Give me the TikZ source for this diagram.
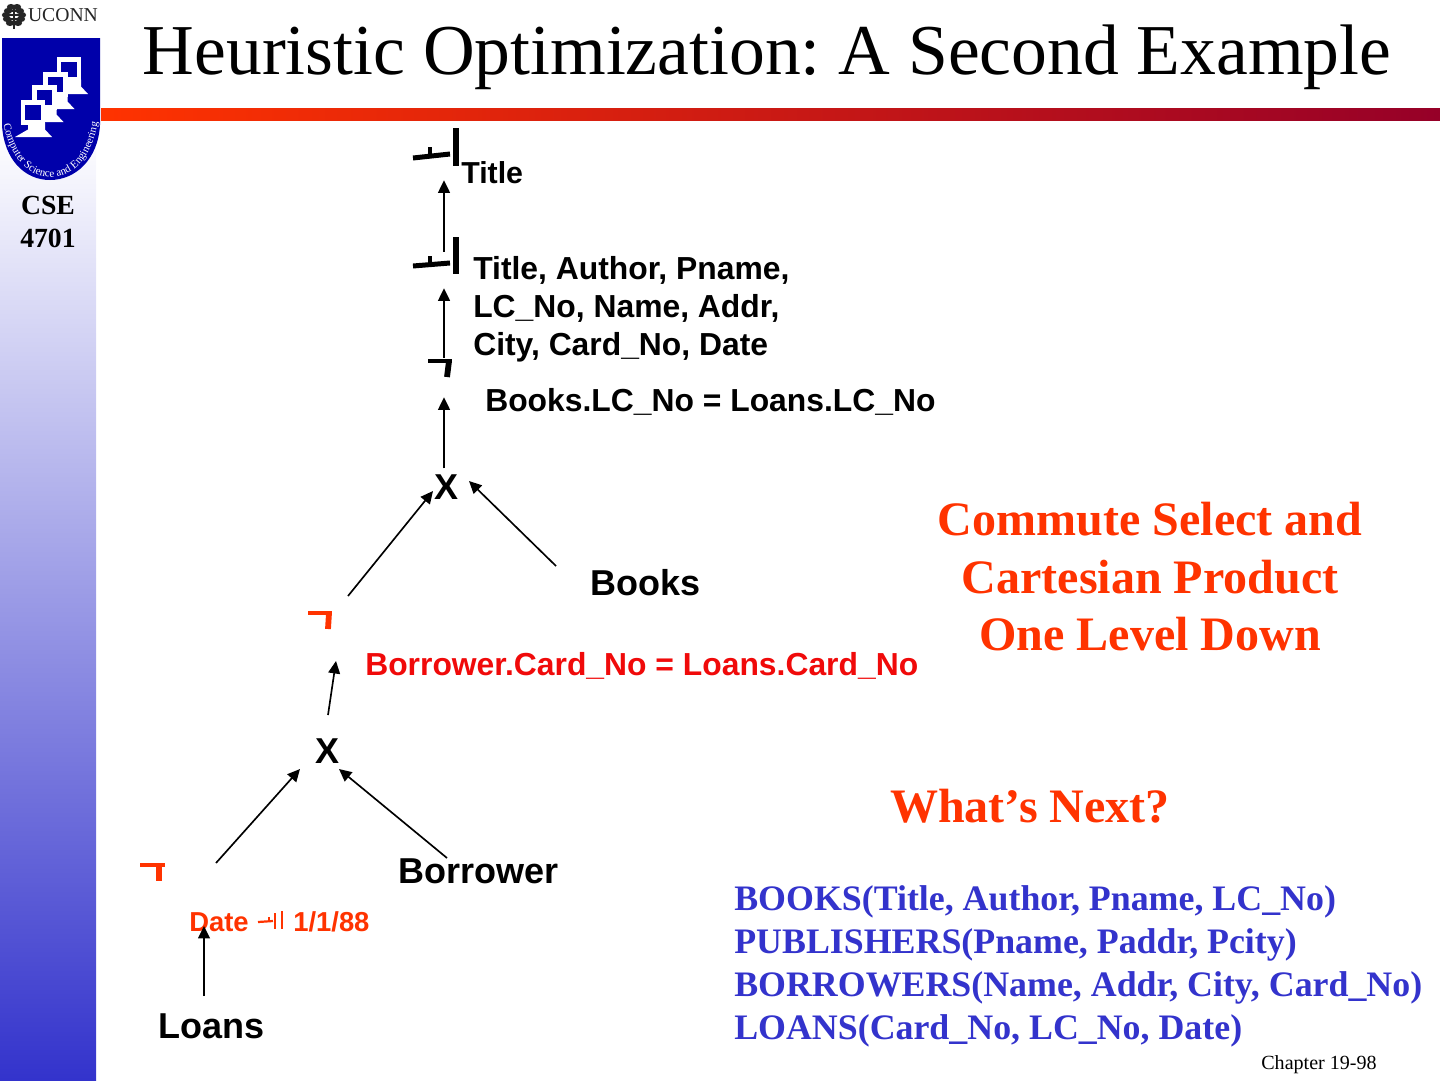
\documentclass[tikz,border=0pt]{standalone}
\usepackage{fontspec}
\setmainfont{Liberation Serif}
\setsansfont{Liberation Sans}
\usetikzlibrary{arrows.meta,decorations.text}
\frenchspacing

\definecolor{rojo}{RGB}{255,51,0}
\definecolor{rojob}{RGB}{240,10,10}
\definecolor{azul}{RGB}{51,51,204}
\definecolor{azulb}{RGB}{0,0,170}
\definecolor{vino}{RGB}{150,0,40}

\begin{document}
\begin{tikzpicture}[
        x=0.01in, y=-0.01in,
        flecha/.style={-{Triangle[length=9pt,width=8.5pt]}, line width=1.2pt},
        hueco/.style={inner sep=0pt},
        etiqueta/.style={inner sep=0pt, anchor=west, align=left, font=\sffamily\bfseries\fontsize{23}{27.5}\selectfont},
        chica/.style={inner sep=0pt, anchor=west, text=rojo, font=\sffamily\bfseries\fontsize{19.8}{24}\selectfont},
        grande/.style={inner sep=0pt, font=\sffamily\bfseries\fontsize{26}{30}\selectfont},
        cartel/.style={inner sep=0pt, align=center, font=\bfseries\fontsize{34.7}{41.5}\selectfont, text=rojo},
        trazo/.style={line width=3.6pt},
        trazorojo/.style={line width=3.4pt, draw=rojo}
    ]
        \useasboundingbox (0,0) rectangle (1440,1080);

        % side band and title rule
        \shade[top color=white, bottom color=azul] (0,130) rectangle (96,1080);
        \shade[left color=rojo, right color=vino, middle color=rojo!50!vino] (101,108) rectangle (1440,120);

        % logo
        \draw[black!85, line width=1pt] (14,5) -- (14,29);
        \foreach \ty/\tw in {7/3, 11/6, 15/8, 19/7, 23/4}{
            \fill[black!85] (14-\tw,\ty) ellipse (3pt and 2.2pt);
            \fill[black!85] (14+\tw,\ty) ellipse (3pt and 2.2pt);
            \draw[black!85, line width=1.6pt] (14-\tw,\ty) -- (14+\tw,\ty);
        }
        \node[inner sep=0pt, font=\fontsize{14.2}{18}\selectfont, text=black!85] (uconn) at (63,15) {UCONN};
        \fill[azulb] (2,38) -- (100,38) -- (100,125) .. controls (98,160) and (75,180) .. (50,180) .. controls (25,180) and (4,160) .. (2,125) -- cycle;
        \foreach \mx/\my in {69/69.5, 55.5/84.5, 44.5/97.5, 33/112.5}{
            \fill[white] (\mx-5,\my+10) -- (\mx+12,\my+10) -- (\mx+12,\my+17) -- (\mx+19,\my+24.5) -- (\mx-18,\my+24.5) -- (\mx-5,\my+17) -- cycle;
            \draw[white, fill=azulb, line width=3.6pt] (\mx-10,\my-10) rectangle (\mx+10,\my+10);
        }
        \path[decorate, decoration={text along path, text align=center,
            text={|\fontsize{7.9}{9}\selectfont\color{white}|Computer Science and Engineering}}]
            (3,122) .. controls (10,160) and (30,177) .. (50,177) .. controls (72,177) and (92,160) .. (98,120);
        \node[inner sep=0pt, align=center, font=\bfseries\fontsize{20}{24}\selectfont] (curso) at (48,222) {CSE\\4701};

        \node[inner sep=0pt, font=\fontsize{51.7}{60}\selectfont] (titulo) at (767,57) {Heuristic Optimization: A Second Example};

        % projections and select at the top
        \node[hueco, minimum width=0.62in, minimum height=0.52in] (pi1) at (444,154) {};
        \node[hueco, minimum width=0.62in, minimum height=0.36in] (pi2) at (444,270) {};
        \node[hueco, minimum width=0.16in, minimum height=0.39in] (sel1) at (444,377.5) {};
        \draw[trazo] (413,158) -- (450,154);
        \draw[line width=2.8pt] (430,147) -- (430,155);
        \draw[line width=4.2pt] (456,128) -- (456,166);
        \draw[trazo] (413,266) -- (450,263);
        \draw[line width=2.8pt] (430,256) -- (430,264);
        \draw[line width=4.2pt] (456,237) -- (456,274);
        \draw[trazo] (428,361) -- (452,361);
        \draw[line width=4.2pt] (449,361) -- (447,377);

        \node[etiqueta, font=\sffamily\bfseries\fontsize{21.9}{27.5}\selectfont] (l1) at (461,173) {Title};
        \node[etiqueta] (l2) at (473,309) {Title, Author, Pname,\\LC\_No, Name, Addr,\\City, Card\_No, Date};
        \node[etiqueta] (l3) at (485,402) {Books.LC\_No = Loans.LC\_No};

        % first product
        \node[grande] (x1) at (446,487) {X};
        \node[grande, anchor=west] (books) at (590,583) {Books};
        \node[hueco] (sel2) at (320,628) {};
        \draw[trazorojo] (308,613) -- (332,613);
        \draw[line width=4.2pt, rojo] (329,613) -- (328,629);
        \node[etiqueta, text=rojob] (l4) at (365,666) {Borrower.Card\_No = Loans.Card\_No};

        % second product
        \node[grande] (x2) at (327,751) {X};
        \node[grande, anchor=west] (borrower) at (398,871) {Borrower};
        \node[hueco] (sel3) at (152,878) {};
        \draw[trazorojo] (140,865) -- (165,865);
        \draw[line width=4.2pt, rojo] (159,865) -- (159,881);
        \node[chica] (l5a) at (189,922) {Date};
        \node[chica] (l5b) at (293,922) {1/1/88};
        \draw[rojo, line width=1.6pt] (258,922) -- (273,921);
        \draw[rojo, line width=1.2pt] (269,917) -- (269,922);
        \draw[rojo, line width=1.6pt] (275,913) -- (275,929);
        \draw[rojo, line width=2pt] (282,911) -- (282,929);
        \node[grande, anchor=west] (loans) at (158,1026) {Loans};

        \draw[flecha] (pi2.north) -- (pi1.south);
        \draw[flecha] (sel1.north) -- (pi2.south);
        \draw[flecha] (x1.north -| sel1.south) ++(0,-6) -- (sel1.south);
        \draw[flecha] ([shift={(28,-32)}]sel2.center) -- ([shift={(-13,4)}]x1.center);
        \draw[flecha] ([shift={(-34,-17)}]books.west) -- ([shift={(23,-6)}]x1.center);
        \draw[flecha] ([shift={(1,-36)}]x2.center) -- ([shift={(16,33)}]sel2.center);
        \draw[flecha] ([shift={(64,-15)}]sel3.center) -- ([shift={(-27,18)}]x2.center);
        \draw[flecha] ([shift={(49,-13)}]borrower.west) -- ([shift={(12,18)}]x2.center);
        \draw[flecha] ([shift={(46,-30)}]loans.west) -- ([shift={(15,4)}]l5a.west);

        % text on the right
        \node[cartel] (c1) at (1150,577) {Commute Select and\\Cartesian Product\\One Level Down};
        \node[cartel] (c2) at (1030,806) {What’s Next?};
        \node[inner sep=0pt, anchor=west, align=left, text=azul, font=\bfseries\fontsize{25.9}{31}\selectfont] (esquema) at (734,966) {BOOKS(Title, Author, Pname, LC\_No)\\PUBLISHERS(Pname, Paddr, Pcity)\\BORROWERS(Name, Addr, City, Card\_No)\\LOANS(Card\_No, LC\_No, Date)};
        \node[inner sep=0pt, anchor=east, font=\fontsize{14.5}{17}\selectfont] (pie) at (1377,1065) {Chapter 19-98};
    \end{tikzpicture}
\end{document}
